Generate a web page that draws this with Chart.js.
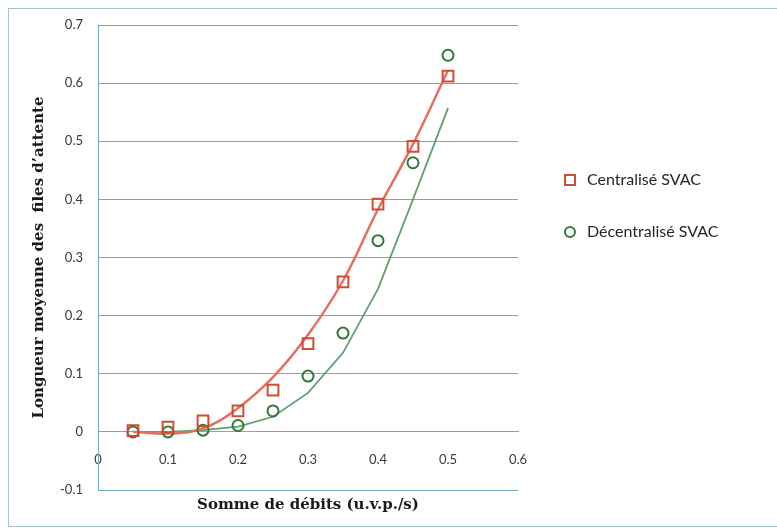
<!DOCTYPE html>
<html><head><meta charset="utf-8">
<script src="https://cdn.jsdelivr.net/npm/chart.js@4"></script>
<style>html,body{margin:0;padding:0;background:#fff}canvas{display:block}</style>
</head><body>
<canvas id="c" width="777" height="529"></canvas>
<script>
const debits = [0.05, 0.10, 0.15, 0.20, 0.25, 0.30, 0.35, 0.40, 0.45, 0.50];
const centraliseSVAC = [0.002, 0.008, 0.019, 0.036, 0.072, 0.152, 0.258, 0.392, 0.491, 0.612];
const decentraliseSVAC = [0.000, 0.000, 0.003, 0.011, 0.036, 0.096, 0.170, 0.329, 0.463, 0.648];
const tendanceCentralise = [0.000, -0.003, 0.006, 0.041, 0.094, 0.167, 0.260, 0.383, 0.495, 0.622];
const tendanceDecentralise = [0.000, 0.000, 0.003, 0.009, 0.026, 0.067, 0.136, 0.246, 0.400, 0.557];
const xTickValues = [0, 0.1, 0.2, 0.3, 0.4, 0.5, 0.6];
const xTickLabels = ['0', '0.1', '0.2', '0.3', '0.4', '0.5', '0.6'];
const yTickValues = [-0.1, 0, 0.1, 0.2, 0.3, 0.4, 0.5, 0.6, 0.7];
const yTickLabels = ['-0.1', '0', '0.1', '0.2', '0.3', '0.4', '0.5', '0.6', '0.7'];
const seriesNames = ['Centralisé SVAC', 'Décentralisé SVAC'];
const xTitle = 'Somme de débits (u.v.p./s)';
const yTitle = 'Longueur moyenne des  files d\u2019attente';

const RED = '#d24c34', RED_LINE = '#e4705f';
const GREEN = '#2f7a35', GREEN_LINE = '#5f9f70';
const GRID = '#74aac8';

const pts = ys => debits.map((x, i) => ({x: x, y: ys[i]}));

const decor = {
  id: 'decor',
  beforeDraw(chart) {
    const ctx = chart.ctx;
    ctx.save();
    ctx.fillStyle = '#fff';
    ctx.fillRect(0, 0, chart.width, chart.height);
    ctx.strokeStyle = '#a9c2ce';
    ctx.lineWidth = 1;
    ctx.strokeRect(8.5, 8.5, chart.width + 10, 518);
    ctx.restore();
  },
  afterDraw(chart) {
    const ctx = chart.ctx, a = chart.chartArea;
    ctx.save();
    ctx.fillStyle = '#1a1a1a';
    ctx.font = 'bold 15px "DejaVu Serif"';
    ctx.textAlign = 'center';
    ctx.textBaseline = 'middle';
    ctx.fillText(xTitle, (a.left + a.right) / 2, 505);
    ctx.save();
    ctx.translate(39, (a.top + a.bottom) / 2);
    ctx.rotate(-Math.PI / 2);
    ctx.fillText(yTitle, 0, 0);
    ctx.restore();
    // legend
    ctx.lineWidth = 2;
    ctx.strokeStyle = RED;
    ctx.strokeRect(565, 175, 10, 10);
    ctx.strokeStyle = GREEN;
    ctx.beginPath();
    ctx.arc(570, 232, 5, 0, Math.PI * 2);
    ctx.stroke();
    ctx.fillStyle = '#262626';
    ctx.font = '16px Lato';
    ctx.textAlign = 'left';
    ctx.fillText(seriesNames[0], 587, 180);
    ctx.fillText(seriesNames[1], 587, 232);
    ctx.restore();
  }
};

new Chart(document.getElementById('c'), {
  type: 'scatter',
  data: {
    datasets: [
      {label: seriesNames[0], data: pts(centraliseSVAC), showLine: false, pointStyle: 'rect',
       pointRadius: 7.6, borderColor: RED, backgroundColor: 'rgba(0,0,0,0)', borderWidth: 2, order: 1},
      {label: seriesNames[1], data: pts(decentraliseSVAC), showLine: false, pointStyle: 'circle',
       pointRadius: 5.5, borderColor: GREEN, backgroundColor: 'rgba(0,0,0,0)', borderWidth: 2, order: 1},
      {label: 'tendance 1', data: pts(tendanceCentralise), showLine: true, pointRadius: 0,
       borderColor: RED_LINE, borderWidth: 2.5, tension: 0.4, fill: false, order: 2},
      {label: 'tendance 2', data: pts(tendanceDecentralise), showLine: true, pointRadius: 0,
       borderColor: GREEN_LINE, borderWidth: 1.8, tension: 0, fill: false, order: 2}
    ]
  },
  options: {
    responsive: false,
    animation: false,
    devicePixelRatio: 1,
    layout: {padding: {left: 0, top: 25, right: 259, bottom: 39}},
    plugins: {legend: {display: false}, tooltip: {enabled: false}, title: {display: false}},
    scales: {
      x: {
        type: 'linear', min: 0, max: 0.6,
        position: {y: 0},
        afterBuildTicks: s => { s.ticks = xTickValues.map(v => ({value: v})); },
        ticks: {callback: (v, i) => xTickLabels[i], padding: 20, color: '#3a3a3a',
                font: {family: 'Lato', size: 13}, maxRotation: 0, autoSkip: false},
        grid: {display: false, drawTicks: false},
        border: {display: true, color: GRID, width: 1}
      },
      y: {
        type: 'linear', min: -0.1, max: 0.7,
        position: 'left',
        afterFit: s => { s.width = 98; },
        afterBuildTicks: s => { s.ticks = yTickValues.map(v => ({value: v})); },
        ticks: {callback: (v, i) => yTickLabels[i], padding: 15, color: '#3a3a3a',
                font: {family: 'Lato', size: 13}, autoSkip: false},
        grid: {color: GRID, lineWidth: 1, drawTicks: false},
        border: {display: true, color: GRID, width: 1}
      }
    }
  },
  plugins: [decor]
});
</script>
</body></html>
